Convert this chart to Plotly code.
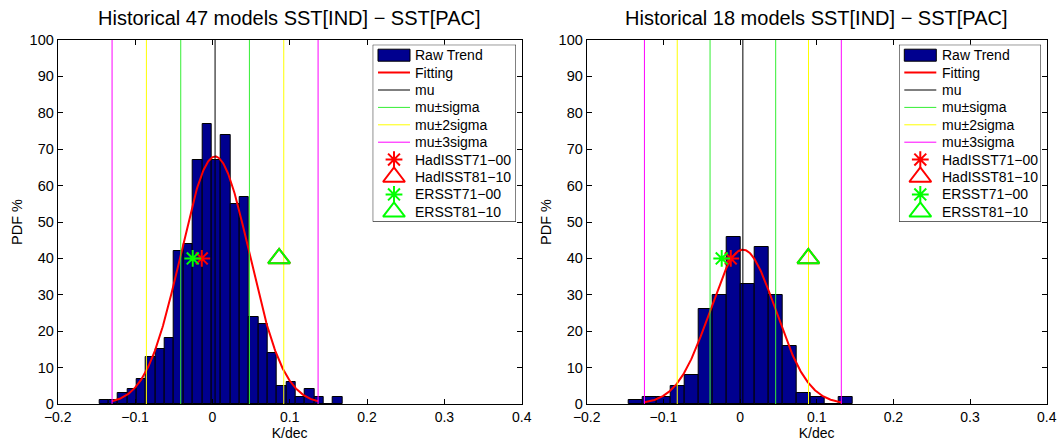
import numpy as np
import plotly.graph_objects as go

# ---------------- data ----------------
titles = ["Historical 47 models SST[IND] − SST[PAC]", "Historical 18 models SST[IND] − SST[PAC]"]
legend_labels = ["Raw Trend", "Fitting", "mu", "mu±sigma", "mu±2sigma", "mu±3sigma",
                 "HadISST71−00", "HadISST81−10", "ERSST71−00", "ERSST81−10"]

# left panel (47 models)
left_first_edge = -0.1461
left_bin_width = 0.01209
left_counts = [1, 1, 3, 4, 7, 13, 15, 18, 42, 44, 67, 77, 67, 74, 55, 57,
               24, 22, 14, 5, 6, 2, 4, 2, 0, 2]
left_mu = 0.0035
left_sigma = 0.0444
left_peak = 68.0
left_had71 = -0.0137
left_ers71 = -0.0254
left_had81 = 0.0863
left_ers81 = 0.0863

# right panel (18 models)
right_first_edge = -0.1448
right_bin_width = 0.01826
right_counts = [1, 2, 2, 5, 8, 26, 30, 46, 33, 43, 30, 16, 3, 2, 0, 2]
right_mu = 0.0037
right_sigma = 0.0428
right_peak = 42.4
right_had71 = -0.0121
right_ers71 = -0.0239
right_had81 = 0.0891
right_ers81 = 0.0891

marker_y = 40
x_ticks = [-0.2, -0.1, 0, 0.1, 0.2, 0.3, 0.4]
x_tick_labels = ["−0.2", "−0.1", "0", "0.1", "0.2", "0.3", "0.4"]
y_ticks = list(range(0, 101, 10))

# ---------------- styles ----------------
FONT = "Liberation Sans, Arial, Helvetica, sans-serif"
BAR_COLOR = "#00008f"
LINE_STYLES = {
    "Fitting": dict(color="#ff0000", width=2),
    "mu": dict(color="#000000", width=1),
    "mu±sigma": dict(color="#33ee33", width=1),
    "mu±2sigma": dict(color="#ffff00", width=1),
    "mu±3sigma": dict(color="#ff00ff", width=1),
}
MARKER_STYLES = {
    "HadISST71−00": dict(symbol="asterisk-open", size=14, color="#ff0000", line=dict(color="#ff0000", width=2)),
    "HadISST81−10": dict(symbol="triangle-up-open", size=19, color="#ff0000", line=dict(color="#ff0000", width=2)),
    "ERSST71−00": dict(symbol="asterisk-open", size=14, color="#00ff00", line=dict(color="#00ff00", width=2)),
    "ERSST81−10": dict(symbol="triangle-up-open", size=19, color="#00ff00", line=dict(color="#00ff00", width=2)),
}

W, H = 1062, 441
xd1 = [57.7 / W, 521.7 / W]
xd2 = [586.7 / W, 1046.7 / W]
yd = [1 - 404 / H, 1 - 40 / H]
# legend boxes (pixel extents)
leg_boxes = [(372.7, 516.0), (899.0, 1041.0)]
leg_top, leg_bottom = 44.7, 221.7

fig = go.Figure()
shapes = []
annotations = []


def add_panel(idx, first_edge, width, counts, mu, sigma, peak, had71, had81, ers71, ers81):
    xa = "x" if idx == 1 else "x2"
    ya = "y" if idx == 1 else "y2"
    centers = [first_edge + width * (i + 0.5) for i in range(len(counts))]
    fig.add_trace(go.Bar(x=centers, y=counts, width=width, name="Raw Trend",
                         marker=dict(color=BAR_COLOR, line=dict(color="black", width=1)),
                         xaxis=xa, yaxis=ya, showlegend=False))
    xs = np.linspace(mu - 3 * sigma, mu + 3 * sigma, 300)
    ys = peak * np.exp(-0.5 * ((xs - mu) / sigma) ** 2)
    fig.add_trace(go.Scatter(x=xs, y=ys, mode="lines", name="Fitting",
                             line=LINE_STYLES["Fitting"], xaxis=xa, yaxis=ya, showlegend=False))

    def vlines(vals, name):
        xx, yy = [], []
        for v in vals:
            xx += [v, v, None]
            yy += [0, 100, None]
        fig.add_trace(go.Scatter(x=xx, y=yy, mode="lines", name=name, line=LINE_STYLES[name],
                                 xaxis=xa, yaxis=ya, showlegend=False))

    vlines([mu], "mu")
    vlines([mu - sigma, mu + sigma], "mu±sigma")
    vlines([mu - 2 * sigma, mu + 2 * sigma], "mu±2sigma")
    vlines([mu - 3 * sigma, mu + 3 * sigma], "mu±3sigma")

    for name, xv in [("HadISST71−00", had71), ("HadISST81−10", had81),
                     ("ERSST71−00", ers71), ("ERSST81−10", ers81)]:
        fig.add_trace(go.Scatter(x=[xv], y=[marker_y], mode="markers", name=name,
                                 marker=MARKER_STYLES[name], xaxis=xa, yaxis=ya, showlegend=False))


def add_legend(idx):
    # legend drawn in its own hidden axes, in pixel units relative to the box
    x0, x1 = leg_boxes[idx]
    wpx = x1 - x0
    hpx = leg_bottom - leg_top
    xa = "x%d" % (idx + 3)
    ya = "y%d" % (idx + 3)
    shapes.append(dict(type="rect", xref=xa, yref=ya, x0=0, x1=wpx, y0=0, y1=hpx,
                       fillcolor="white", line=dict(color="black", width=1), layer="below"))
    row0, step = 10.5, 17.4
    sx0, sx1, tx = 5.3, 37.3, 40.5
    for i, lab in enumerate(legend_labels):
        yc = row0 + step * i
        if lab == "Raw Trend":
            shapes.append(dict(type="rect", xref=xa, yref=ya, x0=sx0, x1=sx1, y0=yc - 6, y1=yc + 6,
                               fillcolor=BAR_COLOR, line=dict(color="black", width=1), layer="above"))
        elif lab in LINE_STYLES:
            fig.add_trace(go.Scatter(x=[sx0, sx1], y=[yc, yc], mode="lines", line=LINE_STYLES[lab],
                                     xaxis=xa, yaxis=ya, showlegend=False, hoverinfo="skip"))
        else:
            fig.add_trace(go.Scatter(x=[(sx0 + sx1) / 2], y=[yc], mode="markers", marker=MARKER_STYLES[lab],
                                     xaxis=xa, yaxis=ya, showlegend=False, hoverinfo="skip"))
        annotations.append(dict(text=lab, x=tx, y=yc, xref=xa, yref=ya, showarrow=False,
                                xanchor="left", yanchor="middle",
                                font=dict(family=FONT, size=14, color="black")))


add_panel(1, left_first_edge, left_bin_width, left_counts, left_mu, left_sigma, left_peak,
          left_had71, left_had81, left_ers71, left_ers81)
add_panel(2, right_first_edge, right_bin_width, right_counts, right_mu, right_sigma, right_peak,
          right_had71, right_had81, right_ers71, right_ers81)
add_legend(0)
add_legend(1)

axis_common = dict(showgrid=False, zeroline=False, showline=True, linecolor="black", linewidth=1,
                   mirror="allticks", ticks="inside", ticklen=5, tickcolor="black", automargin=False)

layout_axes = {}
for k, xd in [(1, xd1), (2, xd2)]:
    sx = "" if k == 1 else str(k)
    layout_axes["xaxis" + sx] = dict(domain=xd, range=[-0.2, 0.4], tickvals=x_ticks, ticktext=x_tick_labels,
                                     anchor="y" + sx, ticklabelstandoff=0,
                                     tickfont=dict(family=FONT, size=14, color="black"),
                                     title=dict(text="K/dec", font=dict(size=14), standoff=1), **axis_common)
    layout_axes["yaxis" + sx] = dict(domain=yd, range=[0, 100], tickvals=y_ticks, anchor="x" + sx,
                                     tickfont=dict(family=FONT, size=14.5, color="black"),
                                     title=dict(text="PDF %", font=dict(size=14.5), standoff=3), **axis_common)
for i in range(2):
    x0, x1 = leg_boxes[i]
    n = i + 3
    layout_axes["xaxis%d" % n] = dict(domain=[x0 / W, x1 / W], range=[0, x1 - x0], visible=False,
                                      anchor="y%d" % n, fixedrange=True)
    layout_axes["yaxis%d" % n] = dict(domain=[1 - leg_bottom / H, 1 - leg_top / H],
                                      range=[leg_bottom - leg_top, 0], visible=False,
                                      anchor="x%d" % n, fixedrange=True)

for i, xd in enumerate([xd1, xd2]):
    annotations.append(dict(text=titles[i], x=(xd[0] + xd[1]) / 2, y=1 - 18 / H, xref="paper", yref="paper",
                            showarrow=False, font=dict(family=FONT, size=20, color="black"),
                            xanchor="center", yanchor="middle"))

fig.update_layout(
    width=W, height=H,
    margin=dict(l=0, r=0, t=0, b=0),
    paper_bgcolor="white", plot_bgcolor="white",
    barmode="overlay", bargap=0,
    font=dict(family=FONT, color="black"),
    showlegend=False,
    shapes=shapes,
    annotations=annotations,
    **layout_axes,
)

fig.write_html("out.html", config={"displayModeBar": False},
               post_script="document.body.style.margin='0';document.body.style.padding='0';")
